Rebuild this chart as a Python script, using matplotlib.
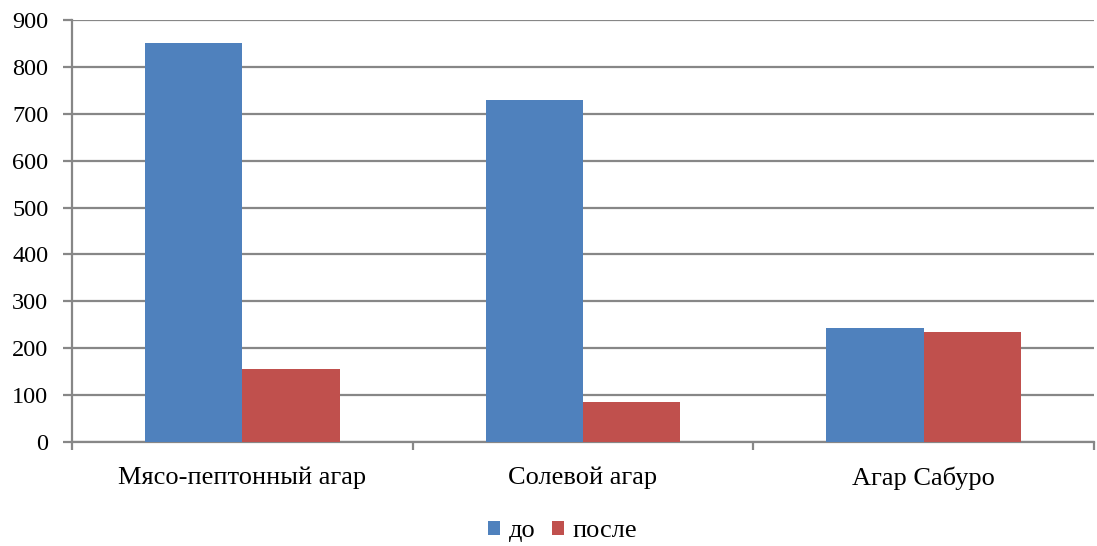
import matplotlib
matplotlib.use("Agg")
import matplotlib.pyplot as plt
import numpy as np

categories = ["Мясо-пептонный агар", "Солевой агар", "Агар Сабуро"]
before = [850, 730, 243]
after = [155, 85, 235]
series_names = ["до", "после"]
colors = ["#4F81BD", "#C0504D"]
yticks = [0, 100, 200, 300, 400, 500, 600, 700, 800, 900]

plt.rcParams["font.family"] = ["Liberation Serif", "DejaVu Serif"]

fig = plt.figure(figsize=(10.97, 5.46), dpi=100)
ax = fig.add_axes([0.0656, 0.1905, 0.9317, 0.7729])

x = np.arange(len(categories))
width = 1 / 3.5
ax.bar(x - width / 2, before, width, color=colors[0], label=series_names[0], zorder=3)
ax.bar(x + width / 2, after, width, color=colors[1], label=series_names[1], zorder=3)

ax.set_xlim(-0.5, len(categories) - 0.5)
ax.set_ylim(0, 900)
ax.set_yticks(yticks)
ax.set_yticklabels([str(v) for v in yticks], fontsize=17.5)
ax.yaxis.grid(True, color="#878787", linewidth=1.6, zorder=0)

# category labels sit between boundary tick marks
ax.set_xticks(x)
ax.set_xticklabels(categories, fontsize=19)
ax.tick_params(axis="x", length=0, pad=18)
ax.set_xticks(np.arange(-0.5, len(categories)), minor=True)
ax.tick_params(axis="x", which="minor", length=6, width=1.6, color="#878787", direction="out")
ax.tick_params(axis="y", length=6.5, width=1.6, color="#878787", direction="out", pad=10.5)

for side in ["top", "right"]:
    ax.spines[side].set_visible(False)
for side in ["left", "bottom"]:
    ax.spines[side].set_color("#878787")
    ax.spines[side].set_linewidth(1.6)

fig.legend(*ax.get_legend_handles_labels(), loc="center",
           bbox_to_anchor=(0.5128, 0.027), ncol=2, frameon=False,
           fontsize=19, handlelength=0.47, handleheight=0.47, handletextpad=0.3,
           columnspacing=0.64, borderpad=0, borderaxespad=0)

fig.savefig("out.png", dpi=100)
